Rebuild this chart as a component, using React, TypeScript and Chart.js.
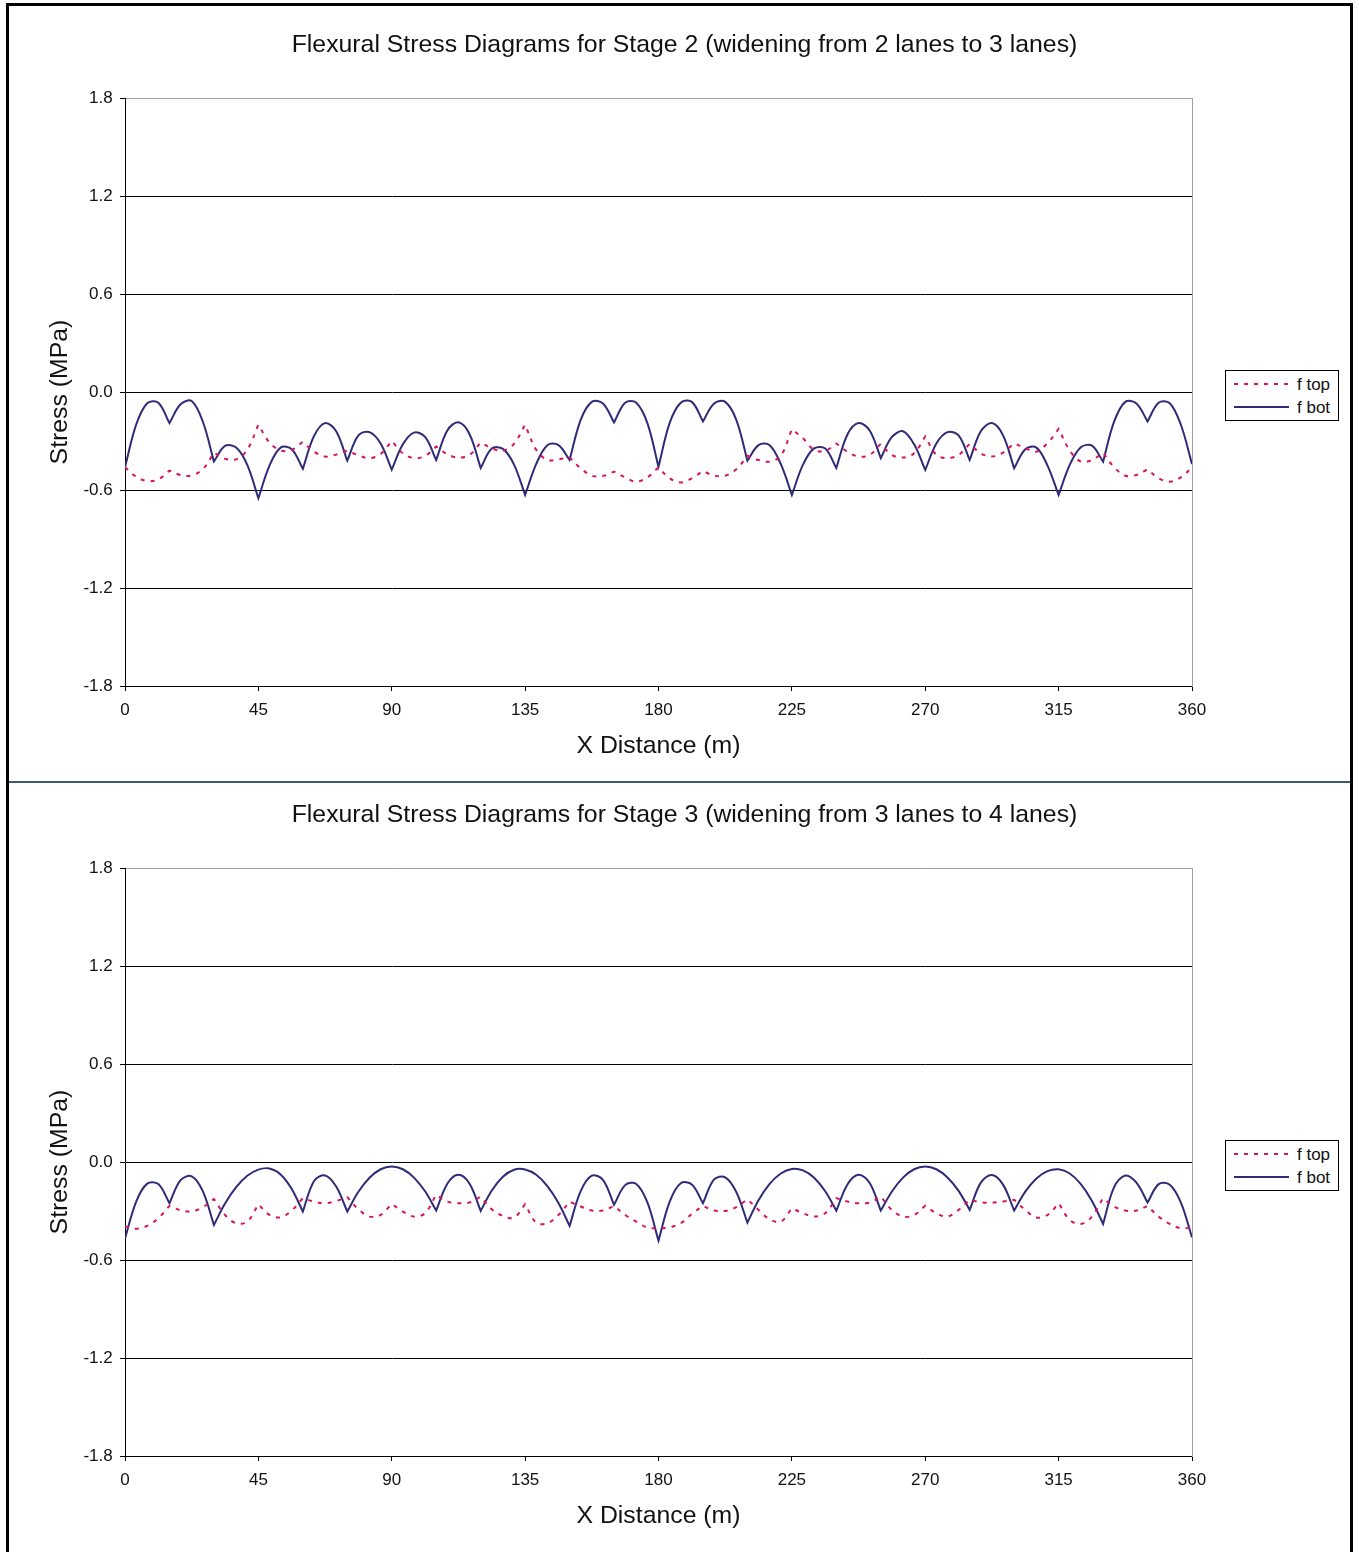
import React, { useEffect, useRef } from 'react';
import { Chart, registerables } from 'chart.js';

Chart.register(...registerables);

// X distance (m) of every reading
const distance = [
  0, 3.75, 7.5, 11.25, 15, 18.75, 22.5, 26.25, 30, 33.75, 37.5, 41.25,
  45, 48.75, 52.5, 56.25, 60, 63.75, 67.5, 71.25, 75, 78.75, 82.5, 86.25,
  90, 93.75, 97.5, 101.25, 105, 108.75, 112.5, 116.25, 120, 123.75, 127.5, 131.25,
  135, 138.75, 142.5, 146.25, 150, 153.75, 157.5, 161.25, 165, 168.75, 172.5, 176.25,
  180, 183.75, 187.5, 191.25, 195, 198.75, 202.5, 206.25, 210, 213.75, 217.5, 221.25,
  225, 228.75, 232.5, 236.25, 240, 243.75, 247.5, 251.25, 255, 258.75, 262.5, 266.25,
  270, 273.75, 277.5, 281.25, 285, 288.75, 292.5, 296.25, 300, 303.75, 307.5, 311.25,
  315, 318.75, 322.5, 326.25, 330, 333.75, 337.5, 341.25, 345, 348.75, 352.5, 356.25,
  360,
];

// Stage 2 (widening from 2 lanes to 3 lanes), stress in MPa
const stage2Top = [
  -0.46, -0.518, -0.545, -0.535, -0.481, -0.508, -0.51, -0.473,
  -0.371, -0.408, -0.412, -0.354, -0.2, -0.309, -0.358, -0.354,
  -0.305, -0.365, -0.395, -0.383, -0.358, -0.387, -0.405, -0.379,
  -0.299, -0.375, -0.405, -0.391, -0.334, -0.381, -0.401, -0.385,
  -0.309, -0.344, -0.36, -0.317, -0.2, -0.354, -0.416, -0.412,
  -0.4, -0.467, -0.512, -0.514, -0.487, -0.522, -0.549, -0.522,
  -0.461, -0.528, -0.553, -0.528, -0.483, -0.512, -0.512, -0.473,
  -0.39, -0.416, -0.426, -0.391, -0.227, -0.283, -0.354, -0.36,
  -0.315, -0.365, -0.395, -0.385, -0.317, -0.385, -0.401, -0.375,
  -0.272, -0.385, -0.405, -0.385, -0.317, -0.375, -0.395, -0.371,
  -0.313, -0.344, -0.365, -0.313, -0.225, -0.358, -0.426, -0.416,
  -0.371, -0.461, -0.512, -0.508, -0.473, -0.528, -0.549, -0.522,
  -0.461,
];
const stage2Bot = [
  -0.46, -0.2, -0.068, -0.065, -0.19, -0.075, -0.055, -0.18,
  -0.425, -0.33, -0.34, -0.446, -0.65, -0.45, -0.34, -0.35,
  -0.47, -0.27, -0.19, -0.24, -0.42, -0.265, -0.245, -0.315,
  -0.475, -0.32, -0.248, -0.275, -0.416, -0.235, -0.185, -0.258,
  -0.465, -0.346, -0.348, -0.444, -0.63, -0.44, -0.325, -0.325,
  -0.416, -0.17, -0.06, -0.07, -0.186, -0.065, -0.065, -0.19,
  -0.457, -0.19, -0.065, -0.06, -0.18, -0.07, -0.06, -0.17,
  -0.42, -0.325, -0.325, -0.44, -0.63, -0.444, -0.345, -0.346,
  -0.465, -0.26, -0.19, -0.235, -0.405, -0.275, -0.24, -0.32,
  -0.477, -0.315, -0.245, -0.265, -0.416, -0.24, -0.19, -0.265,
  -0.467, -0.35, -0.34, -0.45, -0.63, -0.446, -0.338, -0.328,
  -0.426, -0.18, -0.06, -0.07, -0.18, -0.065, -0.068, -0.2,
  -0.44,
];

// Stage 3 (widening from 3 lanes to 4 lanes), stress in MPa
const stage3Top = [
  -0.395, -0.408, -0.391, -0.344, -0.268, -0.295, -0.303, -0.276,
  -0.227, -0.324, -0.375, -0.365, -0.258, -0.324, -0.338, -0.297,
  -0.221, -0.242, -0.252, -0.238, -0.215, -0.289, -0.334, -0.324,
  -0.256, -0.303, -0.334, -0.313, -0.2, -0.242, -0.252, -0.248,
  -0.211, -0.289, -0.33, -0.34, -0.258, -0.371, -0.375, -0.324,
  -0.242, -0.272, -0.297, -0.297, -0.268, -0.324, -0.365, -0.401,
  -0.405, -0.4, -0.375, -0.317, -0.268, -0.297, -0.299, -0.276,
  -0.227, -0.293, -0.35, -0.365, -0.283, -0.313, -0.334, -0.313,
  -0.221, -0.242, -0.252, -0.248, -0.211, -0.293, -0.334, -0.324,
  -0.268, -0.313, -0.334, -0.293, -0.231, -0.246, -0.248, -0.242,
  -0.231, -0.293, -0.34, -0.324, -0.252, -0.354, -0.379, -0.334,
  -0.221, -0.272, -0.297, -0.297, -0.268, -0.334, -0.379, -0.405,
  -0.4,
];
const stage3Bot = [
  -0.467, -0.243, -0.132, -0.135, -0.252, -0.111, -0.087, -0.178,
  -0.385, -0.254, -0.154, -0.084, -0.046, -0.039, -0.076, -0.165,
  -0.303, -0.117, -0.082, -0.15, -0.303, -0.182, -0.096, -0.044,
  -0.027, -0.044, -0.095, -0.179, -0.297, -0.133, -0.078, -0.133,
  -0.299, -0.174, -0.09, -0.047, -0.045, -0.078, -0.147, -0.251,
  -0.391, -0.178, -0.083, -0.109, -0.262, -0.141, -0.134, -0.247,
  -0.481, -0.244, -0.13, -0.137, -0.252, -0.106, -0.093, -0.183,
  -0.371, -0.234, -0.134, -0.07, -0.042, -0.051, -0.096, -0.179,
  -0.298, -0.137, -0.078, -0.128, -0.297, -0.18, -0.095, -0.044,
  -0.027, -0.044, -0.094, -0.176, -0.293, -0.126, -0.079, -0.138,
  -0.297, -0.181, -0.1, -0.055, -0.044, -0.07, -0.135, -0.238,
  -0.379, -0.152, -0.082, -0.126, -0.248, -0.135, -0.139, -0.248,
  -0.461,
];

// Positions (m) where a curve has a sharp kink (support points)
const stage2Kinks = [15, 30, 45, 60, 75, 90, 105, 120, 135, 150, 165, 180, 195, 210, 225, 240, 255, 270, 285, 300, 315, 330, 345];
const stage3TopKinks = [15, 30, 45, 60, 75, 90, 105, 120, 135, 150, 165, 195, 210, 225, 240, 255, 270, 285, 300, 315, 330, 345];
const stage3BotKinks = [15, 30, 60, 75, 105, 120, 150, 165, 180, 195, 210, 240, 255, 285, 300, 330, 345];

const xTicks = { min: 0, max: 360, step: 45 };
const yTicks = { min: -1.8, max: 1.8, step: 0.6 };

const seriesNames = ['f top', 'f bot'];

const FONT = '"Liberation Sans", Arial, Helvetica, sans-serif';
const TOP_COLOR = '#d8145a';
const BOT_COLOR = '#2e2b78';
const TEXT = '#111';

function buildPoints(values: number[], kinks: number[]) {
  const pts: { x: number; y: number }[] = [];
  distance.forEach((x, i) => {
    pts.push({ x, y: values[i] });
    if (kinks.includes(x)) pts.push({ x, y: values[i] });
  });
  return pts;
}

type ChartProps = {
  title: string;
  top: number[];
  bot: number[];
  topKinks: number[];
  botKinks: number[];
  offsetY: number;
};

function StressChart({ title, top, bot, topKinks, botKinks, offsetY }: ChartProps) {
  const ref = useRef<HTMLCanvasElement>(null);
  useEffect(() => {
    const canvas = ref.current;
    if (!canvas) return;
    const chart = new Chart(canvas, {
      type: 'line',
      data: {
        datasets: [
          {
            label: seriesNames[0],
            data: buildPoints(top, topKinks),
            borderColor: TOP_COLOR,
            backgroundColor: TOP_COLOR,
            borderWidth: 2,
            borderDash: [4, 6],
            pointRadius: 0,
            tension: 0.35,
            fill: false,
          },
          {
            label: seriesNames[1],
            data: buildPoints(bot, botKinks),
            borderColor: BOT_COLOR,
            backgroundColor: BOT_COLOR,
            borderWidth: 2,
            pointRadius: 0,
            tension: 0.35,
            fill: false,
          },
        ],
      },
      options: {
        animation: false,
        responsive: false,
        events: [],
        layout: { padding: 0 },
        plugins: {
          legend: { display: false },
          tooltip: { enabled: false },
          title: {
            display: true,
            text: title,
            color: TEXT,
            font: { family: FONT, size: 24.8, weight: 'normal' },
            padding: { top: 24.2, bottom: 38.2 },
          },
        },
        scales: {
          x: {
            type: 'linear',
            position: 'bottom',
            min: xTicks.min,
            max: xTicks.max,
            ticks: {
              stepSize: xTicks.step,
              padding: 9.3,
              color: TEXT,
              font: { family: FONT, size: 17 },
              maxRotation: 0,
              autoSkip: false,
            },
            grid: { drawOnChartArea: false, drawTicks: true, tickLength: 5, color: '#000' },
            border: { color: '#000', width: 1 },
            title: {
              display: true,
              text: 'X Distance (m)',
              color: TEXT,
              font: { family: FONT, size: 24.8 },
              padding: { top: 0, bottom: 20.2 },
            },
            afterFit: (s: any) => {
              s.height = 95;
            },
          },
          y: {
            type: 'linear',
            position: 'left',
            min: yTicks.min,
            max: yTicks.max,
            ticks: {
              stepSize: yTicks.step,
              padding: 7.3,
              color: TEXT,
              font: { family: FONT, size: 17 },
              callback: (v: any) => {
                const n = Number(v);
                return Math.abs(n) < 1e-9 ? '0.0' : n.toFixed(1);
              },
            },
            grid: {
              color: (ctx: any) =>
                ctx.tick && Math.abs(ctx.tick.value - yTicks.max) < 1e-6 ? '#a0a0a0' : '#000',
              tickColor: '#000',
              tickLength: 5,
              drawTicks: true,
              lineWidth: 1,
            },
            border: { color: '#000', width: 1 },
            title: {
              display: true,
              text: 'Stress (MPa)',
              color: TEXT,
              font: { family: FONT, size: 24.8 },
              padding: { top: 36.2, bottom: 0 },
            },
            afterFit: (s: any) => {
              s.width = 116;
            },
          },
          y2: {
            type: 'linear',
            position: 'right',
            min: yTicks.min,
            max: yTicks.max,
            ticks: { display: false },
            grid: { display: false, drawTicks: false },
            border: { display: true, color: '#a0a0a0', width: 1 },
            afterFit: (s: any) => {
              s.width = 168;
            },
          },
        },
      } as any,
    });
    return () => chart.destroy();
  }, [title, top, bot, topKinks, botKinks]);

  return (
    <canvas
      ref={ref}
      width={1351}
      height={775}
      style={{ position: 'absolute', left: 0, top: offsetY, width: 1351, height: 775 }}
    />
  );
}

function Legend({ top }: { top: number }) {
  return (
    <svg
      width={114}
      height={51}
      style={{ position: 'absolute', left: 1216, top, zIndex: 2 }}
    >
      <rect x={0.5} y={0.5} width={113} height={50} fill="#fff" stroke="#000" strokeWidth={1} />
      <line x1={9} y1={14} x2={64} y2={14} stroke={TOP_COLOR} strokeWidth={2} strokeDasharray="4 6" />
      <text x={72} y={14} dominantBaseline="central" fontFamily={FONT} fontSize={17} fill={TEXT}>
        {seriesNames[0]}
      </text>
      <line x1={9} y1={37} x2={64} y2={37} stroke={BOT_COLOR} strokeWidth={2} />
      <text x={72} y={37} dominantBaseline="central" fontFamily={FONT} fontSize={17} fill={TEXT}>
        {seriesNames[1]}
      </text>
    </svg>
  );
}

export default function App() {
  return (
    <div
      style={{
        position: 'absolute',
        left: 6,
        top: 3,
        width: 1347,
        height: 1560,
        border: '3px solid #000',
        boxSizing: 'border-box',
        overflow: 'hidden',
        background: '#fff',
      }}
    >
      <StressChart
        title="Flexural Stress Diagrams for Stage 2 (widening from 2 lanes to 3 lanes)"
        top={stage2Top}
        bot={stage2Bot}
        topKinks={stage2Kinks}
        botKinks={stage2Kinks}
        offsetY={0}
      />
      <StressChart
        title="Flexural Stress Diagrams for Stage 3 (widening from 3 lanes to 4 lanes)"
        top={stage3Top}
        bot={stage3Bot}
        topKinks={stage3TopKinks}
        botKinks={stage3BotKinks}
        offsetY={770}
      />
      <div
        style={{
          position: 'absolute',
          left: 0,
          top: 775,
          width: '100%',
          height: 2,
          background: '#3e5c68',
          zIndex: 3,
        }}
      />
      <Legend top={364} />
      <Legend top={1134} />
    </div>
  );
}
